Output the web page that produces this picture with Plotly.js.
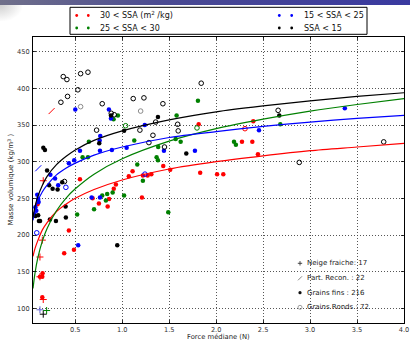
<!DOCTYPE html>
<html>
<head>
<meta charset="utf-8">
<script src="https://cdn.plot.ly/plotly-3.0.1.min.js"></script>
<style>
  html, body { margin: 0; padding: 0; background: #ffffff; }
  #wrap { position: relative; width: 410px; height: 340px; overflow: hidden; }
  #band { position: absolute; left: 0; top: 0; width: 410px; height: 5px;
          background: linear-gradient(to right, #70708a, #4a4a92 40%, #3a3aa0); }
  #corner { position: absolute; left: 0; top: 5px; width: 22px; height: 16px;
            background: radial-gradient(ellipse at 0% 0%, rgba(150,150,150,0.45), rgba(255,255,255,0) 75%); }
  #chart { position: absolute; left: 0; top: 0; width: 410px; height: 340px; }
</style>
</head>
<body>
<div id="wrap">
  <div id="band"></div>
  <div id="corner"></div>
  <div id="chart"></div>
</div>
<script>
// ---- Grains fins (filled dots), one pair of arrays per SSA class ----
const finsRedX = [0.098, 0.55, 0.432, 0.382, 0.486, 0.152, 0.124, 0.149, 0.149, 0.685, 0.86, 0.752, 0.845,
  0.91, 0.933, 1.07, 1.11, 1.22, 1.27, 1.31, 1.21, 1.437, 1.511, 1.83, 2.01, 2.076, 1.814, 2.395, 2.275, 2.385, 2.445];
const finsRedY = [242, 276, 206, 175, 180, 148, 143, 143, 115, 250, 249, 243, 239,
  263, 269, 280, 287, 281, 281, 283, 251, 294, 289, 285, 283, 283, 351, 355, 327, 327, 310];

const finsGreenX = [0.954, 0.908, 0.645, 1.02, 0.578, 0.635, 0.787, 0.84, 0.898, 0.826, 0.70, 0.52, 1.128,
  1.16, 1.22, 1.366, 1.38, 1.383, 1.569, 1.622, 1.579, 1.806, 1.49, 2.19, 2.21, 2.683];
const finsGreenY = [363, 358, 327, 254, 306, 306, 254, 256, 258, 247, 235, 228, 329,
  296, 274, 306, 302, 320, 331, 327, 363, 383, 231, 327, 323, 351];

const finsBlueX = [0.5, 0.858, 0.88, 0.766, 0.76, 1.047, 0.55, 0.763, 0.89, 0.489, 0.432, 0.235, 0.285, 0.318,
  0.674, 0.763, 1.24, 1.444, 1.774, 2.456, 3.37, 0.531, 0.095, 0.105, 0.11, 0.075, 0.085, 0.065];
const finsBlueY = [371, 371, 359, 335, 329, 319, 315, 315, 316, 302, 298, 282, 277, 268,
  251, 251, 350, 315, 315, 343, 373, 186, 255, 249, 245, 238, 233, 228];

const finsBlackX = [0.88, 1.02, 0.755, 0.16, 0.177, 1.38, 2.672, 1.682, 0.2, 0.222, 0.259, 0.312, 0.361,
  0.397, 0.105, 0.113, 0.125, 0.23, 0.294, 0.4, 0.947, 0.075];
const finsBlackY = [363, 342, 325, 319, 316, 361, 363, 311, 288, 268, 263, 262, 272,
  239, 227, 219, 219, 221, 219, 224, 186, 226];

// ---- Grains Ronds (open circles) ----
const rondsBlackX = [0.372, 0.411, 0.557, 0.635, 0.528, 0.418, 0.347, 0.787, 0.883, 0.915, 0.727, 1.117,
  1.231, 1.433, 1.841, 2.66, 1.356, 1.59, 1.596, 1.188, 1.327, 1.284, 1.45, 2.885, 3.784, 0.385];
const rondsBlackY = [416, 412, 420, 422, 398, 389, 381, 379, 366, 364, 343, 386,
  387, 379, 407, 370, 354, 351, 342, 343, 336, 326, 320, 299, 327, 273];
const rondsGrayX = [0.557, 1.196];
const rondsGrayY = [375, 369];
const rondsGreenX = [1.036, 1.796];
const rondsGreenY = [349, 346];
const rondsRedX = [2.307];
const rondsRedY = [345];
const rondsBlueX = [1.242, 0.4, 0.09];
const rondsBlueY = [283, 265, 203];

// ---- Neige fraiche (plus signs) ----
const neigeRedX = [0.159, 0.149, 0.124, 0.124, 0.159];
const neigeRedY = [274, 193, 170, 143, 112];
const neigeBlueX = [0.124];
const neigeBlueY = [98];
const neigeBlackX = [0.159];
const neigeBlackY = [92];
const neigeGreenX = [0.195];
const neigeGreenY = [97];

// ---- Part. Recon. (slashes) ----
const reconRedX = [0.248];
const reconRedY = [369];
const reconBlueX = [0.106];
const reconBlueY = [291];

// ---- Fitted trend per SSA class, read at these forces ----
const fitX = [0.05, 0.07, 0.1, 0.15, 0.2, 0.3, 0.4, 0.5, 0.7, 1.0, 1.5, 2.0, 2.5, 3.0, 3.5, 4.0];
const fitRed = [171, 181, 192, 207, 217, 232, 242, 250, 262, 275, 290, 300, 308, 315, 320, 325];
const fitGreen = [127, 147, 168, 192, 209, 233, 250, 263, 283, 304, 328, 345, 358, 369, 378, 386];
const fitBlue = [220, 233, 246, 259, 268, 282, 291, 298, 309, 320, 333, 341, 348, 354, 359, 363];
const fitBlack = [224, 238, 252, 268, 280, 296, 307, 316, 329, 342, 357, 368, 376, 383, 389, 394];

// ---- Tick labels ----
const xTicks = [0.5, 1.0, 1.5, 2.0, 2.5, 3.0, 3.5, 4.0];
const xTickText = ['0.5', '1.0', '1.5', '2.0', '2.5', '3.0', '3.5', '4.0'];
const yTicks = [100, 150, 200, 250, 300, 350, 400, 450];

// ---- Legend texts ----
const classLabels = ['30 < SSA (m<sup>2</sup> /kg)', '25 < SSA < 30', '15 < SSA < 25', 'SSA < 15'];
const classColors = ['#ff0000', '#008000', '#0000ff', '#000000'];
const typeLabels = ['Neige fraiche: 17', 'Part. Recon. : 22', 'Grains fins : 216', 'Grains Ronds : 72'];

// ---- Layout geometry (pixels) ----
const W = 410, H = 340, ML = 33, MR = 6, MT = 37, MB = 17;
const PW = W - ML - MR, PH = H - MT - MB;
const px = v => (v - ML) / PW;
const py = v => (H - MB - v) / PH;
const FONT = 'DejaVu Sans, sans-serif';

function filled(x, y, color) {
  return { x, y, type: 'scatter', mode: 'markers', hoverinfo: 'skip',
    marker: { symbol: 'circle', size: 4.5, color, line: { width: 0 } } };
}
function open(x, y, color) {
  return { x, y, type: 'scatter', mode: 'markers', hoverinfo: 'skip',
    marker: { symbol: 'circle-open', size: 4.6, color, line: { width: 1, color } } };
}
function plus(x, y, color) {
  return { x, y, type: 'scatter', mode: 'markers', hoverinfo: 'skip',
    marker: { symbol: 'cross-thin-open', size: 5, color, line: { width: 1, color } } };
}
function slash(x, y, color) {
  return { x, y, type: 'scatter', mode: 'markers', hoverinfo: 'skip',
    marker: { symbol: 'line-ne-open', size: 6, color, line: { width: 1, color } } };
}
function fit(y, color) {
  return { x: fitX, y, type: 'scatter', mode: 'lines', hoverinfo: 'skip',
    line: { color, width: 1.2, shape: 'spline', smoothing: 0.8 } };
}

const traces = [
  filled(finsRedX, finsRedY, '#ff0000'),
  filled(finsGreenX, finsGreenY, '#008000'),
  filled(finsBlueX, finsBlueY, '#0000ff'),
  filled(finsBlackX, finsBlackY, '#000000'),
  open(rondsBlackX, rondsBlackY, '#000000'),
  open(rondsGrayX, rondsGrayY, '#8a8a8a'),
  open(rondsGreenX, rondsGreenY, '#008000'),
  open(rondsRedX, rondsRedY, '#ff0000'),
  open(rondsBlueX, rondsBlueY, '#0000ff'),
  plus(neigeRedX, neigeRedY, '#ff0000'),
  plus(neigeBlueX, neigeBlueY, '#6060d0'),
  plus(neigeBlackX, neigeBlackY, '#000000'),
  plus(neigeGreenX, neigeGreenY, '#008000'),
  slash(reconRedX, reconRedY, '#ff0000'),
  slash(reconBlueX, reconBlueY, '#0000ff'),
  fit(fitRed, '#ff0000'),
  fit(fitGreen, '#008000'),
  fit(fitBlue, '#0000ff'),
  fit(fitBlack, '#000000')
];

// ---- Legends drawn as shapes + annotations ----
const shapes = [];
const annotations = [];

// class legend above the axes
shapes.push({ type: 'rect', xref: 'paper', yref: 'paper',
  x0: px(70), x1: px(367), y0: py(34.3), y1: py(7.3),
  line: { color: '#000', width: 1 }, fillcolor: '#fff', layer: 'above' });
const colX = [[76.7, 88.3, 97.7], [279.3, 291.7, 301.7]];
const rowY = [15.5, 28];
const order = [[0, 0], [1, 0], [0, 1], [1, 1]]; // [row, col] per class
classLabels.forEach((lab, i) => {
  const [r, c] = order[i];
  const yy = rowY[r];
  [colX[c][0], colX[c][1]].forEach(xx => {
    shapes.push({ type: 'circle', xref: 'paper', yref: 'paper', xsizemode: 'pixel', ysizemode: 'pixel',
      xanchor: px(xx), yanchor: py(yy), x0: -1.4, x1: 1.4, y0: -1.4, y1: 1.4,
      fillcolor: classColors[i], line: { width: 0 }, layer: 'above' });
  });
  annotations.push({ xref: 'paper', yref: 'paper', x: px(colX[c][2]), y: py(yy),
    xanchor: 'left', yanchor: 'middle', showarrow: false, text: lab,
    font: { family: FONT, size: 8, color: '#111' } });
});

// grain-type legend inside the axes
const typeY = [263.3, 278.3, 292.7, 307.3];
const mx = 300;
// plus
shapes.push({ type: 'path', xref: 'paper', yref: 'paper', xsizemode: 'pixel', ysizemode: 'pixel',
  xanchor: px(mx), yanchor: py(typeY[0]), path: 'M-2.2,0 L2.2,0 M0,-2.2 L0,2.2',
  line: { color: '#333', width: 0.9 }, layer: 'above' });
// slash
shapes.push({ type: 'line', xref: 'paper', yref: 'paper', xsizemode: 'pixel', ysizemode: 'pixel',
  xanchor: px(mx), yanchor: py(typeY[1]), x0: -2, x1: 2, y0: -2, y1: 2,
  line: { color: '#777', width: 0.9 }, layer: 'above' });
// dot
shapes.push({ type: 'circle', xref: 'paper', yref: 'paper', xsizemode: 'pixel', ysizemode: 'pixel',
  xanchor: px(mx), yanchor: py(typeY[2]), x0: -1.6, x1: 1.6, y0: -1.6, y1: 1.6,
  fillcolor: '#111', line: { width: 0 }, layer: 'above' });
// open circle
shapes.push({ type: 'circle', xref: 'paper', yref: 'paper', xsizemode: 'pixel', ysizemode: 'pixel',
  xanchor: px(mx), yanchor: py(typeY[3]), x0: -2, x1: 2, y0: -2, y1: 2,
  fillcolor: 'rgba(0,0,0,0)', line: { color: '#888', width: 0.8 }, layer: 'above' });
typeLabels.forEach((lab, i) => {
  annotations.push({ xref: 'paper', yref: 'paper', x: px(305), y: py(typeY[i]),
    xanchor: 'left', yanchor: 'middle', showarrow: false, text: lab,
    font: { family: FONT, size: 7, color: '#222' } });
});

// axis titles
annotations.push({ xref: 'paper', yref: 'paper', x: px(218.5), y: py(337),
  xanchor: 'center', yanchor: 'middle', showarrow: false, text: 'Force médiane (N)',
  font: { family: FONT, size: 6.8, color: '#222' } });
annotations.push({ xref: 'paper', yref: 'paper', x: px(10.5), y: py(180),
  xanchor: 'center', yanchor: 'middle', showarrow: false, textangle: -90,
  text: 'Masse volumique (kg/m<sup>3</sup> )',
  font: { family: FONT, size: 7, color: '#222' } });

const axisCommon = {
  showline: true, linecolor: '#000', linewidth: 1, mirror: 'allticks',
  ticks: 'inside', ticklen: 3, tickwidth: 0.8, tickcolor: '#000',
  showgrid: true, gridcolor: '#444', gridwidth: 0.9, griddash: '1px,2px',
  zeroline: false, tickfont: { family: FONT, size: 6.6, color: '#333' }
};

const layout = {
  width: W, height: H,
  margin: { l: ML, r: MR, t: MT, b: MB, pad: 0 },
  paper_bgcolor: 'rgba(0,0,0,0)', plot_bgcolor: '#ffffff',
  showlegend: false,
  xaxis: Object.assign({}, axisCommon, { range: [0.05, 4.0], tickvals: xTicks, ticktext: xTickText,
    ticklabelstandoff: 0 }),
  yaxis: Object.assign({}, axisCommon, { range: [80, 470], tickvals: yTicks, ticklabelstandoff: 1 }),
  shapes, annotations
};

Plotly.newPlot('chart', traces, layout, { staticPlot: true, displayModeBar: false });
</script>
</body>
</html>
